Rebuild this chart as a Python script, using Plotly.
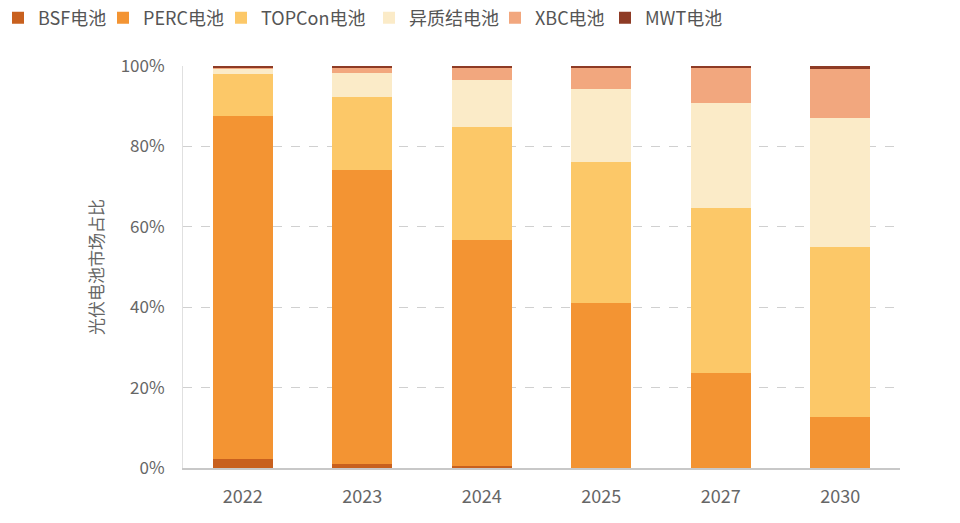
import plotly.graph_objects as go

years = ["2022", "2023", "2024", "2025", "2027", "2030"]
series_names = ["BSF电池", "PERC电池", "TOPCon电池", "异质结电池", "XBC电池", "MWT电池"]
bsf = [2.2, 1.0, 0.5, 0.0, 0.0, 0.0]
perc = [85.4, 73.1, 56.2, 41.0, 23.6, 12.7]
topcon = [10.4, 18.2, 28.1, 35.1, 41.1, 42.3]
hjt = [1.5, 6.0, 11.7, 18.2, 26.1, 32.1]
xbc = [0.2, 1.2, 3.0, 5.2, 8.6, 12.2]
mwt = [0.3, 0.5, 0.5, 0.5, 0.6, 0.7]
colors = ["#C8601E", "#F39433", "#FCC868", "#FBEBC8", "#F2A77E", "#8E3B25"]
y_ticks = [0, 20, 40, 60, 80, 100]
y_tick_labels = ["0%", "20%", "40%", "60%", "80%", "100%"]

# legend anchor positions (pixels in figure); first one is a right anchor
legend_px = [104, 95, 213, 361, 487, 597]
legend_anchor = ["right", "left", "left", "left", "left", "left"]

FONT = "Noto Sans CJK SC"
W, H = 960, 523
ML, MR = 175, 68
fig = go.Figure()
layout_legends = {}
for i, (name, vals, col) in enumerate(zip(series_names, [bsf, perc, topcon, hjt, xbc, mwt], colors)):
    lg = f"legend{i+2}"
    fig.add_trace(go.Bar(x=years, y=vals, name=name, legend=lg,
                         marker=dict(color=col, line=dict(width=0))))
    layout_legends[lg] = dict(orientation="h", xref="container", yref="container",
                              x=legend_px[i] / W, y=1 - 10 / H, xanchor=legend_anchor[i],
                              yanchor="middle",
                              font=dict(size=18, color="#555555"), itemwidth=30,
                              bgcolor="rgba(0,0,0,0)")

fig.update_layout(
    barmode="stack",
    bargap=0.5,
    width=W, height=H,
    margin=dict(l=ML, r=MR, t=58, b=63, autoexpand=False),
    plot_bgcolor="white", paper_bgcolor="white",
    font=dict(family=FONT, color="#666666", size=17),
    xaxis=dict(showline=True, linecolor="#C8C8C8", linewidth=1.5, ticks="",
               ticklabelstandoff=12, tickfont=dict(size=18, color="#666666")),
    yaxis=dict(range=[0, 100], tickvals=y_ticks, ticktext=y_tick_labels,
               showgrid=True, gridcolor="#D0D0D0", griddash="dash", gridwidth=1,
               showline=True, linecolor="#E0E0E0", linewidth=1,
               zeroline=False, ticks="", ticklabelstandoff=14,
               title=dict(text="光伏电池市场占比", font=dict(size=17, color="#666666"), standoff=12),
               tickfont=dict(size=17, color="#666666")),
    **layout_legends,
)
fig.write_html("out.html")
